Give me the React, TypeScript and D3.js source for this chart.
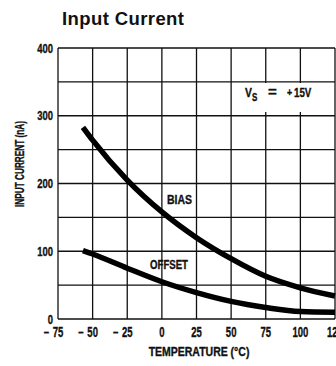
import React from "react";
import * as d3 from "d3";

const temps = [-57, -50, -25, 0, 25, 50, 75, 100, 125];
const biasCurrent = [283, 264, 205, 158, 120, 89, 63, 46, 34];
const offsetCurrent = [101, 96, 75, 55, 39, 26, 17, 11, 10];
const xTicks = [-75, -50, -25, 0, 25, 50, 75, 100, 125];
const yTicks = [0, 100, 200, 300, 400];
const yGrid = [0, 50, 100, 150, 200, 250, 300, 350, 400];

const W = 336, H = 366;
const FONT = "'Liberation Sans', Arial, sans-serif";

type CTProps = {
  x: number;
  y: number;
  sx?: number;
  size?: number;
  anchor?: "start" | "middle" | "end";
  rotate?: number;
  children: React.ReactNode;
};

function CText({ x, y, sx = 0.7, size = 13, anchor = "start", rotate = 0, children }: CTProps) {
  return (
    <text
      transform={`translate(${x},${y}) rotate(${rotate}) scale(${sx},1)`}
      textAnchor={anchor}
      fontSize={size}
      fontWeight="bold"
      fill="#111"
      stroke="#111"
      strokeWidth={0.35}
    >
      {children}
    </text>
  );
}

export default function App() {
  const x = d3.scaleLinear().domain([-75, 125]).range([58, 335]);
  const y = d3.scaleLinear().domain([0, 400]).range([319, 48]);
  const line = d3
    .line<number>()
    .x((_, i) => x(temps[i]))
    .y((d) => y(d))
    .curve(d3.curveMonotoneX);

  return (
    <svg
      width={W}
      height={H}
      style={{ position: "absolute", left: 0, top: 0, background: "#fff" }}
      fontFamily={FONT}
    >
      <rect x={0} y={0} width={W} height={H} fill="#fff" />
      <text x={62} y={25} fontWeight="bold" fontSize={18.5} letterSpacing={0.4} fill="#111">
        Input Current
      </text>
      {/* grid */}
      {xTicks.map((t) => (
        <line key={"gx" + t} x1={x(t)} x2={x(t)} y1={y(400)} y2={y(0)} stroke="#111" strokeWidth={1.3} />
      ))}
      {yGrid.map((t) => (
        <line key={"gy" + t} x1={x(-75)} x2={x(125)} y1={y(t)} y2={y(t)} stroke="#111" strokeWidth={1.3} />
      ))}
      {/* Vs label box */}
      <rect x={243} y={83} width={82} height={29} fill="#fff" />
      <CText x={245} y={97} size={13} sx={0.8}>V</CText>
      <CText x={252} y={101} size={10} sx={0.8}>S</CText>
      <CText x={268} y={97} size={15} sx={1}>=</CText>
      <CText x={287} y={96} size={11} sx={0.8}>+</CText>
      <CText x={294} y={97} size={13} sx={0.75}>15V</CText>
      {/* curves */}
      <path d={line(biasCurrent) || ""} fill="none" stroke="#000" strokeWidth={5.5} strokeLinecap="butt" />
      <path d={line(offsetCurrent) || ""} fill="none" stroke="#000" strokeWidth={5.5} strokeLinecap="butt" />
      <CText x={179.5} y={204} size={12.5} sx={0.84} anchor="middle">BIAS</CText>
      <CText x={169} y={269} size={12.5} sx={0.77} anchor="middle">OFFSET</CText>
      {/* x tick labels */}
      {xTicks.map((t) => (
        <g key={"xt" + t}>
          <CText x={x(t)} y={337} size={14} sx={0.68} anchor="middle">
            {Math.abs(t)}
          </CText>
          {t < 0 && (
            <CText x={x(t) - 9} y={337} size={14} sx={0.68} anchor="end">
              –
            </CText>
          )}
        </g>
      ))}
      {/* y tick labels */}
      {yTicks.map((t) => (
        <CText key={"yt" + t} x={53} y={y(t) + 4.5} size={13.5} sx={0.7} anchor="end">
          {t}
        </CText>
      ))}
      <CText x={199} y={356} size={12.5} sx={0.84} anchor="middle">
        TEMPERATURE (°C)
      </CText>
      <CText x={24} y={164} size={12.5} sx={0.66} anchor="middle" rotate={-90}>
        INPUT CURRENT (nA)
      </CText>
    </svg>
  );
}
